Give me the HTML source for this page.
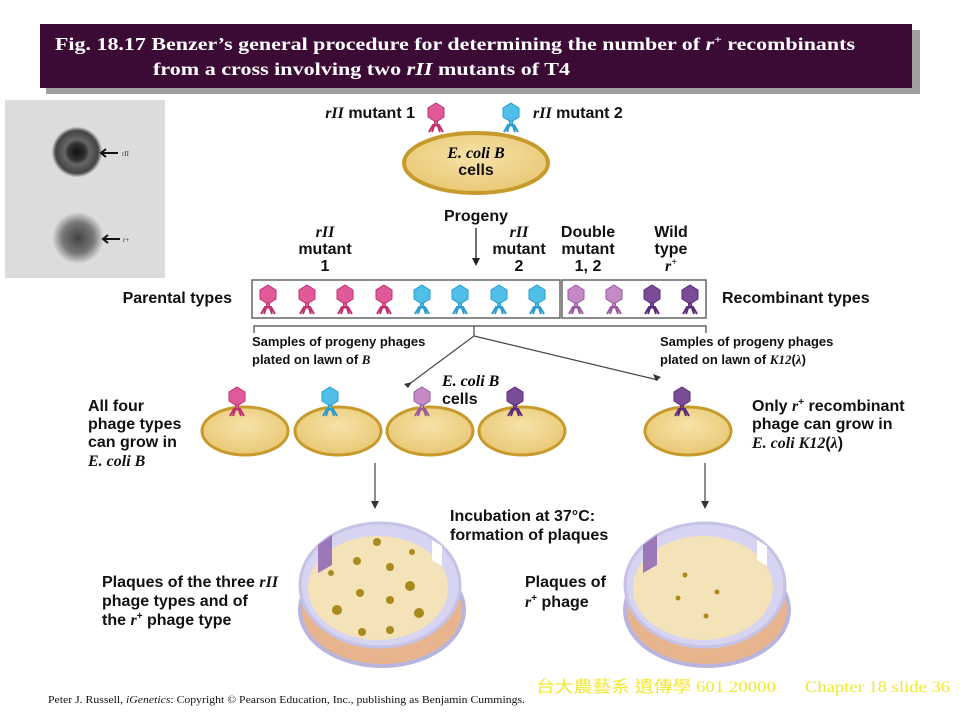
<!DOCTYPE html>
<html><head><meta charset="utf-8"><style>
body{margin:0;background:#fff}
svg{display:block}
.b{font-family:"Liberation Sans",sans-serif;font-weight:bold;font-size:16px;fill:#111}
.s{font-family:"Liberation Serif",serif;font-style:italic;font-weight:bold}
</style></head><body>
<svg width="960" height="720" viewBox="0 0 960 720" xmlns="http://www.w3.org/2000/svg">
<defs>
<radialGradient id="cell" cx="50%" cy="40%" r="60%"><stop offset="0" stop-color="#f6e2a8"/><stop offset="1" stop-color="#e9c874"/></radialGradient>
<radialGradient id="pl" cx="50%" cy="50%" r="50%"><stop offset="0" stop-color="#111"/><stop offset=".35" stop-color="#333"/><stop offset=".5" stop-color="#666"/><stop offset=".85" stop-color="#444"/><stop offset="1" stop-color="#ccc"/></radialGradient>
<radialGradient id="pl2" cx="50%" cy="50%" r="50%"><stop offset="0" stop-color="#444"/><stop offset=".6" stop-color="#777"/><stop offset="1" stop-color="#dcdcdc"/></radialGradient>
<g id="ph"><polygon points="0,-10 8,-5 8,4 0,9 -8,4 -8,-5"/><rect x="-1.5" y="8" width="3" height="5"/><path d="M-7,19 L-3,12 L3,12 L7,19 M-4,19 L-2,13 M4,19 L2,13" fill="none" stroke-width="2"/></g>
</defs>
<rect x="46" y="30" width="874" height="64" fill="#a0a0a0"/>
<rect x="40" y="24" width="872" height="64" fill="#3b0a35"/>
<text x="55" y="50" font-family="Liberation Serif,serif" font-size="18" font-weight="bold" fill="#fff" textLength="800" lengthAdjust="spacingAndGlyphs">Fig. 18.17  Benzer’s general procedure for determining  the number of <tspan font-style="italic">r</tspan><tspan font-size="11" dy="-7">+</tspan><tspan dy="7"> recombinants</tspan></text>
<text x="153" y="75" font-family="Liberation Serif,serif" font-size="18" font-weight="bold" fill="#fff" textLength="417" lengthAdjust="spacingAndGlyphs">from a cross involving  two <tspan font-style="italic">rII</tspan> mutants of T4</text>
<rect x="5" y="100" width="160" height="178" fill="#dcdcdc"/>
<circle cx="77" cy="152" r="25" fill="url(#pl)"/>
<circle cx="78" cy="238" r="26" fill="url(#pl2)"/>
<path d="M102,153h16M106,149l-5,4 5,4M104,239h16M108,235l-5,4 5,4" stroke="#111" stroke-width="2" fill="none"/>
<text x="122" y="156" font-size="7" fill="#333">rII</text><text x="123" y="242" font-size="7" fill="#333">r+</text>
<text class="b" x="415" y="118" text-anchor="end"><tspan class="s">rII</tspan> mutant 1</text>
<text class="b" x="533" y="118"><tspan class="s">rII</tspan> mutant 2</text>
<ellipse cx="476" cy="163" rx="72" ry="30" fill="url(#cell)" stroke="#c79a2c" stroke-width="4"/>
<use href="#ph" x="436" y="113" fill="#e05a9a" stroke="#c0306f"/>
<use href="#ph" x="511" y="113" fill="#4fbfe8" stroke="#2a9ccd"/>
<text class="s" x="476" y="158" text-anchor="middle" font-size="16">E. coli B</text>
<text class="b" x="476" y="175" text-anchor="middle">cells</text>
<text class="b" x="476" y="221" text-anchor="middle">Progeny</text>
<path d="M476,228V260" stroke="#222" stroke-width="1.3"/><path d="M472,258l4,8 4,-8z" fill="#222"/>
<g class="b" text-anchor="middle">
<text x="325" y="237" class="s">rII</text><text x="325" y="254">mutant</text><text x="325" y="271">1</text>
<text x="519" y="237" class="s">rII</text><text x="519" y="254">mutant</text><text x="519" y="271">2</text>
<text x="588" y="237">Double</text><text x="588" y="254">mutant</text><text x="588" y="271">1, 2</text>
<text x="671" y="237">Wild</text><text x="671" y="254">type</text><text x="671" y="271" class="s">r<tspan font-size="10" dy="-6">+</tspan></text>
</g>
<rect x="252" y="280" width="308" height="38" fill="#fff" stroke="#666" stroke-width="1.5"/>
<rect x="562" y="280" width="144" height="38" fill="#fff" stroke="#666" stroke-width="1.5"/>
<g fill="#e05a9a" stroke="#c0306f"><use href="#ph" x="268" y="295"/><use href="#ph" x="307" y="295"/><use href="#ph" x="345" y="295"/><use href="#ph" x="384" y="295"/></g>
<g fill="#4fbfe8" stroke="#2a9ccd"><use href="#ph" x="422" y="295"/><use href="#ph" x="460" y="295"/><use href="#ph" x="499" y="295"/><use href="#ph" x="537" y="295"/></g>
<g fill="#c48ac8" stroke="#9a5aa0"><use href="#ph" x="576" y="295"/><use href="#ph" x="614" y="295"/></g>
<g fill="#7a4c98" stroke="#5a2c78"><use href="#ph" x="652" y="295"/><use href="#ph" x="690" y="295"/></g>
<text class="b" x="232" y="303" text-anchor="end">Parental types</text>
<text class="b" x="722" y="303">Recombinant types</text>
<path d="M254,333V326H706V333M474,326V336L408,385M474,336L658,380M375,463V503M705,463V503" stroke="#444" stroke-width="1.2" fill="none"/>
<path d="M404,384l8,-2 -4,6zM661,377l-8,-3 3,7zM371,501l4,8 4,-8zM701,501l4,8 4,-8z" fill="#333"/>
<g class="b" style="font-size:13px">
<text x="252" y="346">Samples of progeny phages</text><text x="252" y="364">plated on lawn of <tspan class="s">B</tspan></text>
<text x="660" y="346">Samples of progeny phages</text><text x="660" y="364">plated on lawn of <tspan class="s">K12</tspan>(<tspan class="s">λ</tspan>)</text>
</g>
<text class="s" x="442" y="386" font-size="16">E. coli B</text>
<text class="b" x="442" y="404">cells</text>
<g fill="url(#cell)" stroke="#c79a2c" stroke-width="3">
<ellipse cx="245" cy="431" rx="43" ry="24"/><ellipse cx="338" cy="431" rx="43" ry="24"/><ellipse cx="430" cy="431" rx="43" ry="24"/><ellipse cx="522" cy="431" rx="43" ry="24"/><ellipse cx="688" cy="431" rx="43" ry="24"/></g>
<use href="#ph" x="237" y="397" fill="#e05a9a" stroke="#c0306f"/>
<use href="#ph" x="330" y="397" fill="#4fbfe8" stroke="#2a9ccd"/>
<use href="#ph" x="422" y="397" fill="#c48ac8" stroke="#9a5aa0"/>
<use href="#ph" x="515" y="397" fill="#7a4c98" stroke="#5a2c78"/>
<use href="#ph" x="682" y="397" fill="#7a4c98" stroke="#5a2c78"/>
<g class="b">
<text x="88" y="411">All four</text><text x="88" y="429">phage types</text><text x="88" y="447">can grow in</text><text x="88" y="466" class="s">E. coli B</text>
<text x="752" y="411">Only <tspan class="s">r</tspan><tspan font-size="10" dy="-6">+</tspan><tspan dy="6"> recombinant</tspan></text><text x="752" y="429">phage can grow in</text><text x="752" y="448"><tspan class="s">E. coli K12</tspan>(<tspan class="s">λ</tspan>)</text>
<text x="450" y="521">Incubation at 37°C:</text><text x="450" y="540">formation of plaques</text>
<text x="102" y="587">Plaques of the three <tspan class="s">rII</tspan></text><text x="102" y="606">phage types and of</text><text x="102" y="625">the <tspan class="s">r</tspan><tspan font-size="10" dy="-6">+</tspan><tspan dy="6"> phage type</tspan></text>
<text x="525" y="587">Plaques of</text><text x="525" y="607"><tspan class="s">r</tspan><tspan font-size="10" dy="-6">+</tspan><tspan dy="6"> phage</tspan></text>
</g>
<g id="dish">
<ellipse cx="382" cy="610" rx="82" ry="56" fill="#e8b48e" stroke="#b7b4de" stroke-width="4"/>
<ellipse cx="380" cy="585" rx="80" ry="62" fill="#d6d4f0" stroke="#c4c2e6" stroke-width="3"/>
<ellipse cx="378" cy="588" rx="70" ry="52" fill="#f4e3b8"/>
<path d="M318,545l14,-10v30l-14,8z" fill="#9c78b8"/>
<path d="M432,540l10,6v20l-10,-6z" fill="#fff"/>
</g>
<g fill="#a88a1e">
<circle cx="377" cy="542" r="4"/><circle cx="412" cy="552" r="3"/><circle cx="357" cy="561" r="4"/><circle cx="390" cy="567" r="4"/><circle cx="331" cy="573" r="3"/><circle cx="360" cy="593" r="4"/><circle cx="410" cy="586" r="5"/><circle cx="390" cy="600" r="4"/><circle cx="337" cy="610" r="5"/><circle cx="419" cy="613" r="5"/><circle cx="362" cy="632" r="4"/><circle cx="390" cy="630" r="4"/>
</g>
<use href="#dish" x="325" y="0"/>
<g fill="#a88a1e"><circle cx="685" cy="575" r="2.5"/><circle cx="717" cy="592" r="2.5"/><circle cx="678" cy="598" r="2.5"/><circle cx="706" cy="616" r="2.5"/></g>
<text x="48" y="703" font-family="Liberation Serif,serif" font-size="10" fill="#111" textLength="477" lengthAdjust="spacingAndGlyphs">Peter J. Russell, <tspan font-style="italic">iGenetics</tspan>: Copyright © Pearson Education, Inc., publishing as Benjamin Cummings.</text>
<text x="536" y="692" font-family="Liberation Serif,'Noto Sans CJK TC',sans-serif" font-size="16" fill="#f0e830" textLength="240" lengthAdjust="spacingAndGlyphs">台大農藝系 遺傳學 601 20000</text>
<text x="805" y="692" font-family="Liberation Serif,serif" font-size="16" fill="#f0e830" textLength="145" lengthAdjust="spacingAndGlyphs">Chapter 18 slide 36</text>
</svg>
</body></html>
